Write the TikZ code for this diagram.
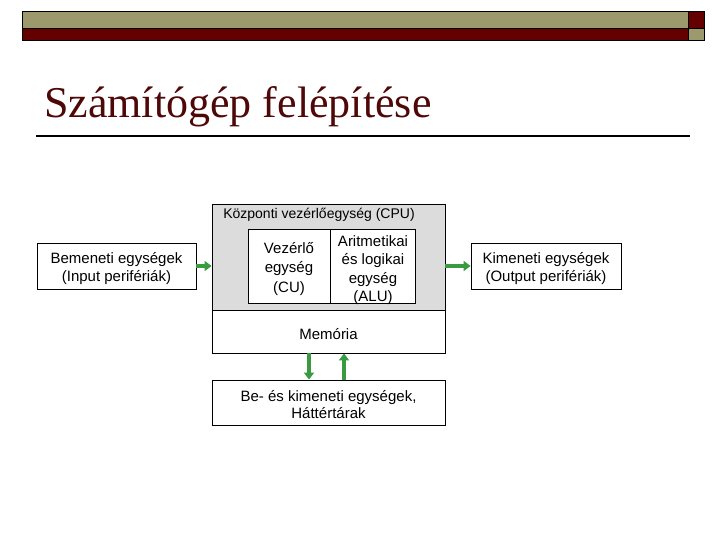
\documentclass[tikz,border=0pt]{standalone}
\usepackage{fontspec}
\setmainfont{Liberation Sans}
\newfontfamily\titlefont{Liberation Serif}
\usetikzlibrary{arrows.meta,positioning}
\definecolor{barolive}{HTML}{9C9A6C}
\definecolor{barred}{HTML}{640000}
\definecolor{titlered}{HTML}{4E0808}
\definecolor{cpugray}{HTML}{DCDCDC}
\definecolor{arrgreen}{HTML}{3A9A40}

\begin{document}
\begin{tikzpicture}[x=1pt, y=-1pt,
  unitBox/.style ={draw=black, line width=0.9pt, fill=white, inner sep=0pt, align=center, font=\fontsize{15}{18}\selectfont},
  unitText/.style={align=center, inner sep=0pt, font=\fontsize{15}{18.5}\selectfont},
  flowArrow/.style={draw=arrgreen, line width=3.8pt, -{Triangle[length=7pt, width=10pt]}},
]
\useasboundingbox (0,0) rectangle (720,540);

% header bars
\fill[barolive] (22,12) rectangle (688,29);
\fill[barred] (22,29) rectangle (688,41);
\fill[barred] (688,12) rectangle (704,29);
\fill[barolive] (688,29) rectangle (704,41);
\draw[black, line width=1pt] (22,12) rectangle (704,41);
\draw[black, line width=1pt] (22,29) -- (704,29);
\draw[black, line width=1pt] (688,12) -- (688,41);

% title
\node[anchor=base west, inner sep=0pt, font=\titlefont\fontsize{44}{48}\selectfont, text=titlered] (title) at (44,118) {Számítógép felépítése};
\draw[black, line width=1.5pt] (36,136) -- (690,136);

% CPU block
\node[unitBox, fill=cpugray, minimum width=233pt, minimum height=106pt] (cpu) at (328.5,257) {};
\node[anchor=north, inner sep=0pt, font=\fontsize{14}{16}\selectfont] (cpulabel) at (319,208) {Központi vezérlőegység (CPU)};
\node[unitBox, minimum width=82pt, minimum height=74pt] (cu) at (289,266) {};
\node[unitBox, minimum width=85pt, minimum height=74pt] (alu) at (372.5,266) {};
\node[unitText, font=\fontsize{15}{19.5}\selectfont] (cutext) at (289,269) {Vezérlő\\egység\\(CU)};
\node[unitText] (alutext) at (373,270) {Aritmetikai\\és logikai\\egység\\(ALU)};

% memory and storage
\node[unitBox, minimum width=233pt, minimum height=43pt] (mem) at (328.5,331.5) {};
\node[unitText] (memtext) at (328.5,334) {Memória};
\node[unitBox, minimum width=233pt, minimum height=45pt] (store) at (328.5,402.5) {};
\node[unitText, font=\fontsize{15}{17.5}\selectfont] (storetext) at (328.5,404.5) {Be- és kimeneti egységek,\\Háttértárak};

% peripherals
\node[unitBox, minimum width=159pt, minimum height=46pt] (inp) at (116.5,266) {};
\node[unitText] (inptext) at (116.5,268.5) {Bemeneti egységek\\(Input perifériák)};
\node[unitBox, minimum width=150pt, minimum height=46pt] (outp) at (546,266) {};
\node[unitText] (outptext) at (546,268.5) {Kimeneti egységek\\(Output perifériák)};

% data flow
\draw[flowArrow] (inp.east) -- (cpu.west |- inp.east);
\draw[flowArrow] (cpu.east |- outp.west) -- (outp.west);
\draw[flowArrow] ([xshift=-19.5pt]mem.south) -- ([xshift=-19.5pt]store.north);
\draw[flowArrow] ([xshift=15.5pt]store.north) -- ([xshift=15.5pt]mem.south);
\end{tikzpicture}
\end{document}
